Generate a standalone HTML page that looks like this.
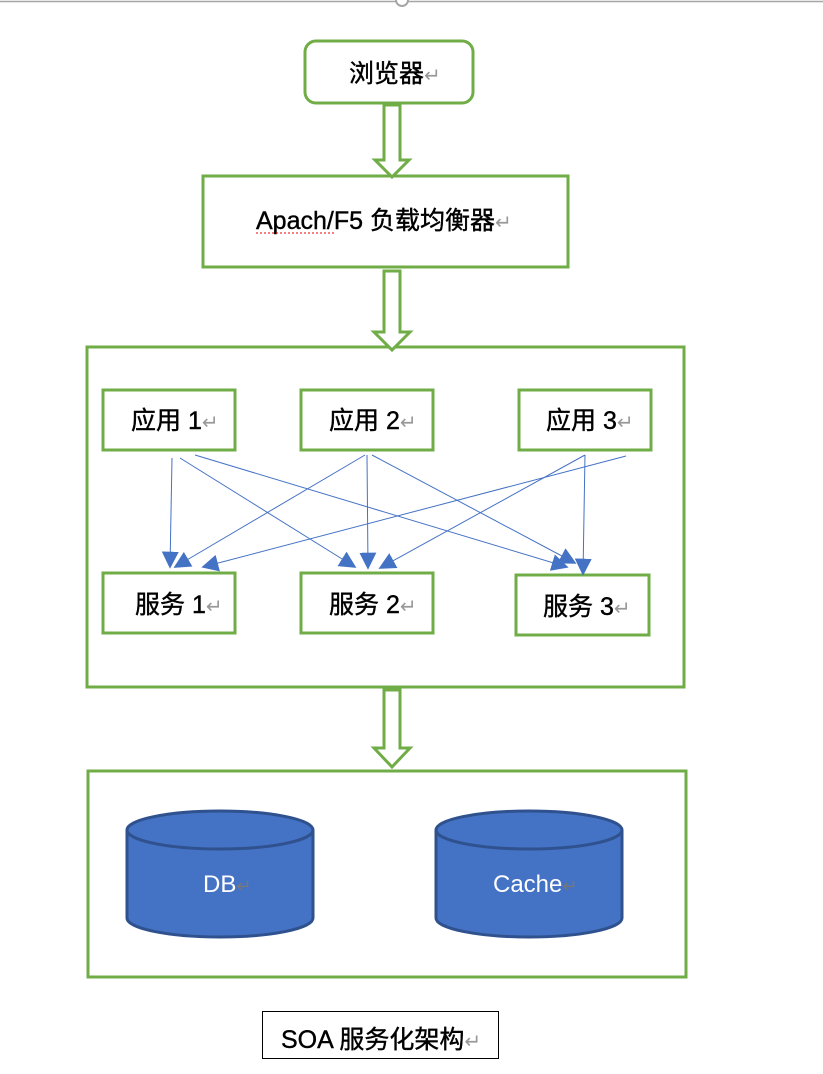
<!DOCTYPE html>
<html><head><meta charset="utf-8"><style>
html,body{margin:0;padding:0;background:#fff;}
svg{display:block;}
text{font-family:"Liberation Sans","Noto Sans CJK SC",sans-serif;}
</style></head><body>
<svg width="823" height="1074" viewBox="0 0 823 1074" xmlns="http://www.w3.org/2000/svg">
<defs>
<marker id="ah" viewBox="0 0 10 10" refX="9" refY="5" markerWidth="17" markerHeight="17" markerUnits="userSpaceOnUse" orient="auto">
<path d="M0,0 L10,5 L0,10 z" fill="#4472c4"/></marker>
</defs>
<line x1="0" y1="1.5" x2="823" y2="1.5" stroke="#a6a6a6" stroke-width="1.5"/>
<circle cx="402" cy="0" r="6" fill="#fff" stroke="#a6a6a6" stroke-width="2"/>
<g fill="#fff" stroke="#70ad47" stroke-width="3">
<rect x="305" y="41" width="168" height="62" rx="11"/>
<rect x="203" y="176" width="365" height="91"/>
<rect x="87" y="347" width="597" height="340"/>
<rect x="88" y="771" width="598" height="206"/>
<path d="M384,105 H400 V160 H409 L392,177 L375,160 H384 Z"/>
<path d="M384,271 H400 V332 H410 L392,350 L374,332 H384 Z"/>
<path d="M384,690 H400 V748 H410 L392,767 L374,748 H384 Z"/>
<rect x="103" y="390" width="132" height="60"/>
<rect x="301" y="390" width="132" height="60"/>
<rect x="519" y="390" width="132" height="60"/>
<rect x="103" y="573" width="132" height="60"/>
<rect x="301" y="573" width="132" height="60"/>
<rect x="516" y="575" width="133" height="60"/>
</g>
<g stroke="#4472c4" stroke-width="1" marker-end="url(#ah)">
<line x1="172" y1="458" x2="170" y2="567"/>
<line x1="180" y1="458" x2="355" y2="567"/>
<line x1="195" y1="455" x2="567" y2="567"/>
<line x1="365" y1="455" x2="175" y2="567"/>
<line x1="367" y1="455" x2="368" y2="568"/>
<line x1="372" y1="455" x2="575" y2="563"/>
<line x1="585" y1="455" x2="380" y2="568"/>
<line x1="585" y1="455" x2="583" y2="574"/>
<line x1="626" y1="456" x2="203" y2="567"/>
</g>
<g font-size="25" fill="#000" stroke="#000" stroke-width="0.4">
<text x="349" y="82">浏览器<tspan fill="#999" stroke="none" font-size="20">↵</tspan></text>
<text x="256" y="229">Apach/F5 负载均衡器<tspan fill="#999" stroke="none" font-size="20">↵</tspan></text>
<text x="131" y="429">应用 1<tspan fill="#999" stroke="none" font-size="20">↵</tspan></text>
<text x="329" y="429">应用 2<tspan fill="#999" stroke="none" font-size="20">↵</tspan></text>
<text x="546" y="429">应用 3<tspan fill="#999" stroke="none" font-size="20">↵</tspan></text>
<text x="135" y="613">服务 1<tspan fill="#999" stroke="none" font-size="20">↵</tspan></text>
<text x="329" y="613">服务 2<tspan fill="#999" stroke="none" font-size="20">↵</tspan></text>
<text x="543" y="615">服务 3<tspan fill="#999" stroke="none" font-size="20">↵</tspan></text>
</g>
<line x1="256" y1="233" x2="334" y2="233" stroke="#e00" stroke-width="1" stroke-dasharray="2,2"/>
<g fill="#4472c4" stroke="#2f528f" stroke-width="3">
<path d="M127,830 V918 A93,19 0 0 0 313,918 V830"/>
<ellipse cx="220" cy="830" rx="93" ry="19"/>
<path d="M436,830 V918 A93,19 0 0 0 622,918 V830"/>
<ellipse cx="529" cy="830" rx="93" ry="19"/>
</g>
<text x="203" y="892" font-size="24" fill="#fff">DB<tspan fill="#777" font-size="18">↵</tspan></text>
<text x="493" y="892" font-size="24" fill="#fff">Cache<tspan fill="#777" font-size="18">↵</tspan></text>
<rect x="262.5" y="1011.5" width="236" height="47" fill="#fff" stroke="#000" stroke-width="1"/>
<text x="281" y="1048" font-size="25" fill="#000" stroke="#000" stroke-width="0.4">SOA 服务化架构<tspan fill="#999" stroke="none" font-size="20">↵</tspan></text>
</svg>
</body></html>
